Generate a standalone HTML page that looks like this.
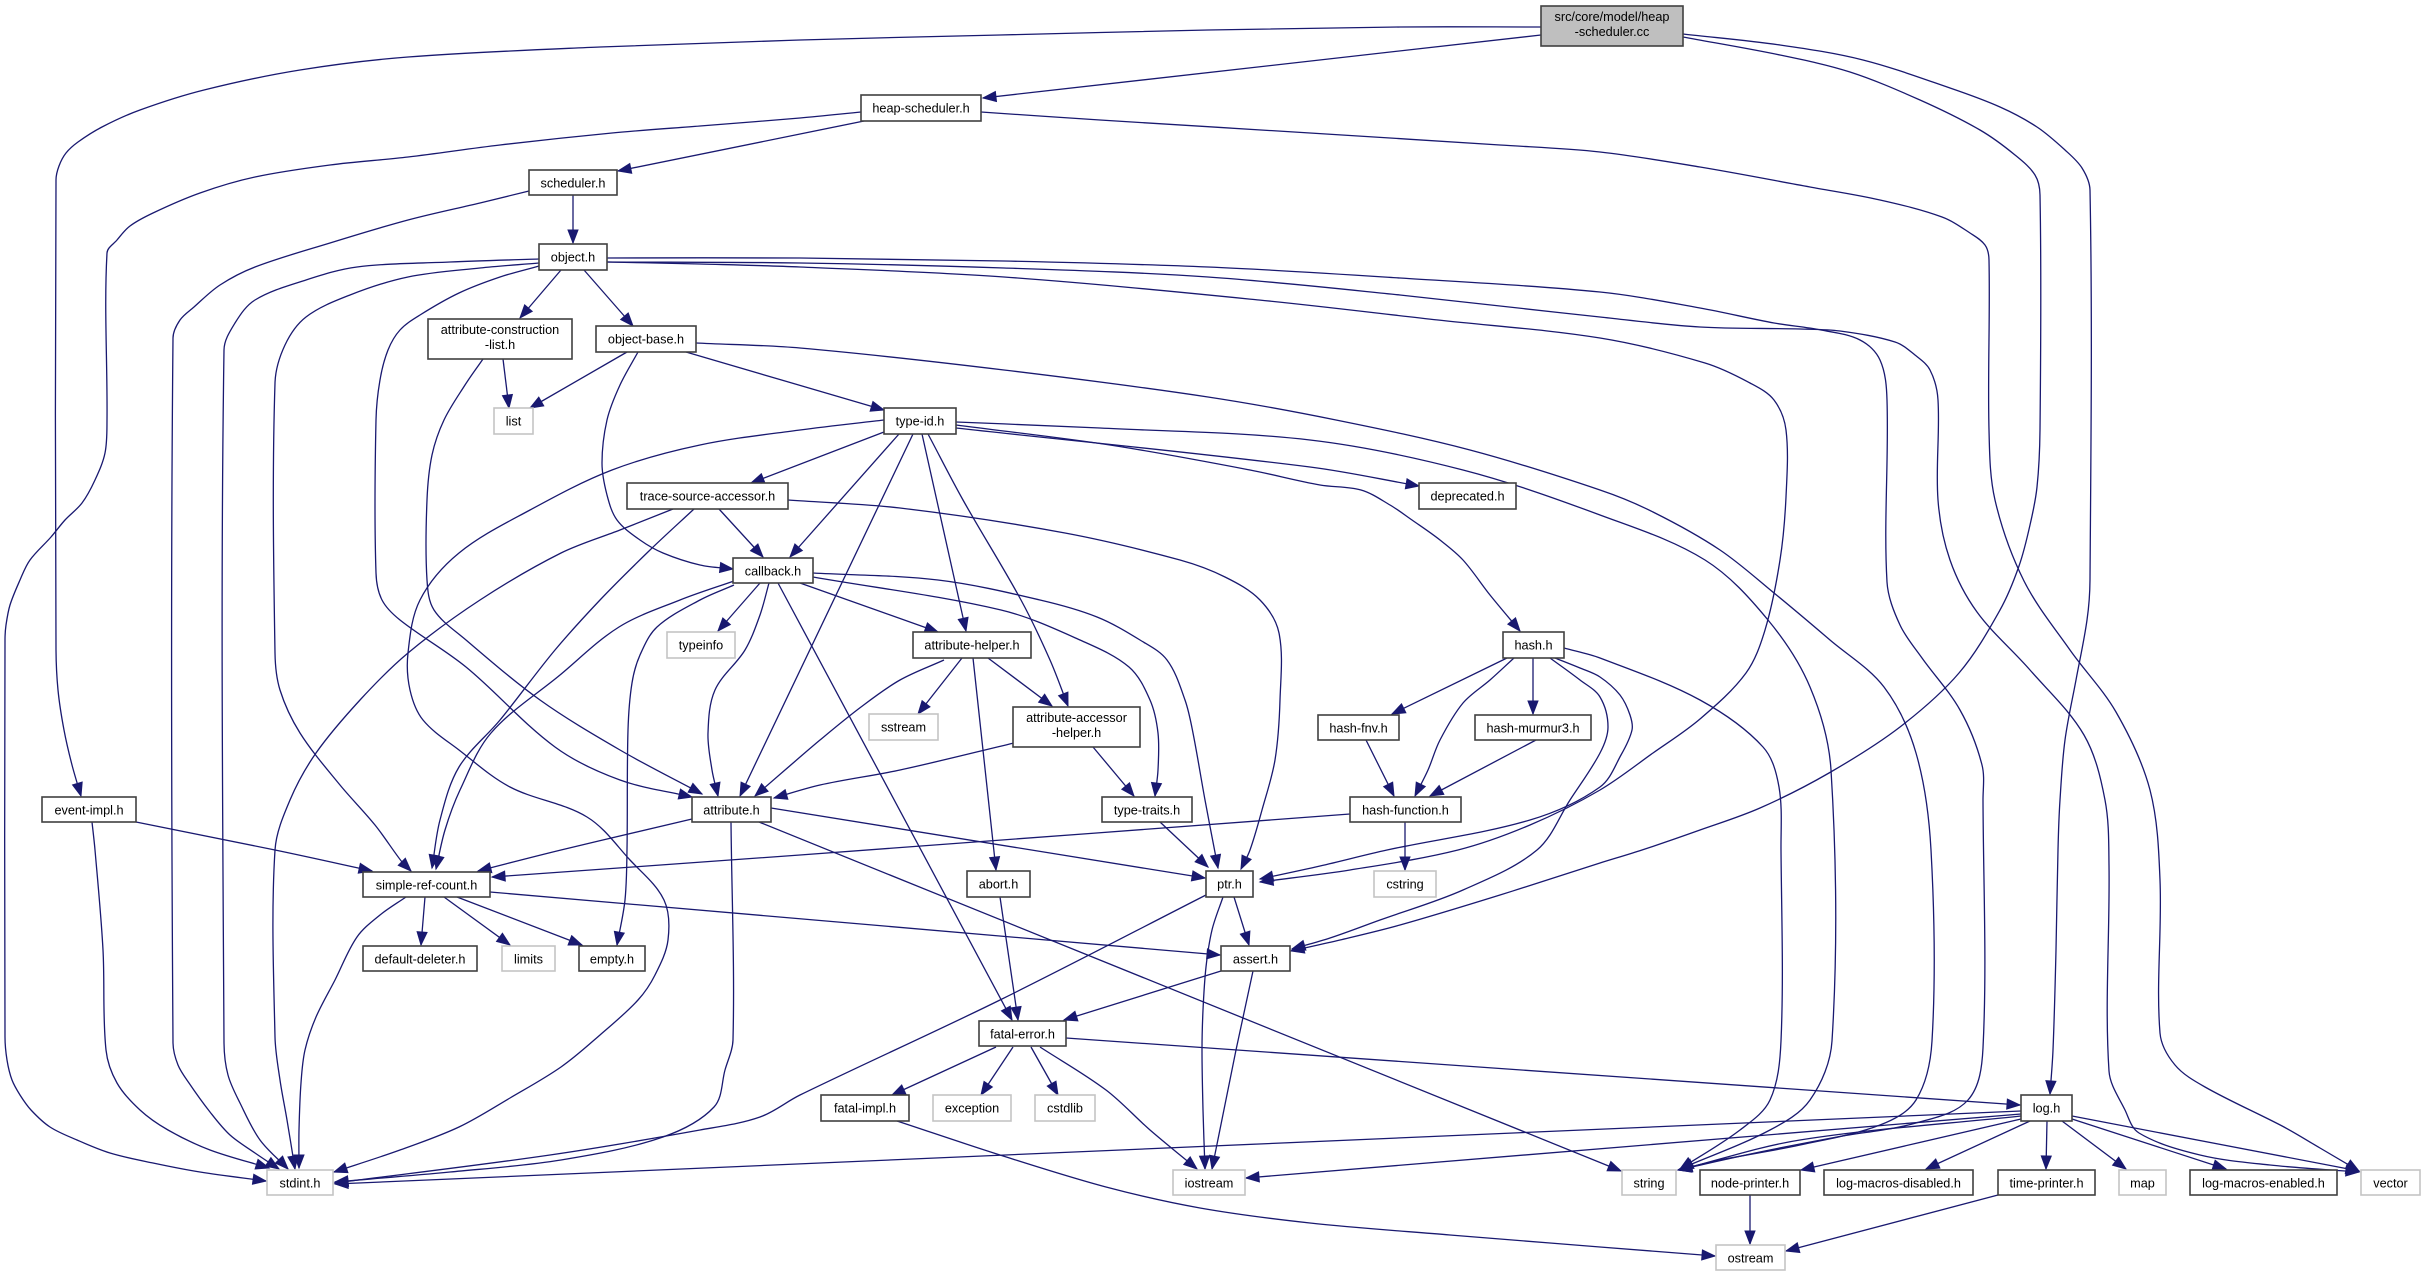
<!DOCTYPE html>
<html><head><meta charset="utf-8"><style>html,body{margin:0;padding:0;background:#fff}svg{display:block}</style></head>
<body>
<svg width="2425" height="1276" viewBox="0 0 2425 1276" xmlns="http://www.w3.org/2000/svg">
<rect width="2425" height="1276" fill="#fff"/>
<defs><marker id="a" markerUnits="userSpaceOnUse" markerWidth="14" markerHeight="12" refX="13" refY="5" orient="auto" overflow="visible"><path d="M0,0L13,5L0,10z" fill="#191970" stroke="#191970" stroke-width="1"/></marker></defs>
<g id="edges" fill="none" stroke="#191970" stroke-width="1.3" stroke-linejoin="round" marker-end="url(#a)">
<path d="M1541,35 L983,98"/>
<path d="M1541,27 L1400,27 L1208,30 L1000,35 L800,40 L600,47 L408,57 L300,70 L204,90 L140,110 L102,127 L78,142 L66,153 L59,166 L56,180 L56,650 L58,690 L64,730 L72,765 L81,796"/>
<path d="M1683,34 L1780,45 L1863,60 L1950,88 L2000,107 L2037,127 L2065,150 L2082,168 L2090,190 L2090,580 L2087,620 L2076,680 L2065,740 L2060,800 L2058,850 L2056,950 L2053,1050 L2050,1094"/>
<path d="M1683,37 L1780,55 L1850,72 L1920,100 L1980,130 L2015,155 L2035,175 L2040,195 L2040,430 L2037,487 L2030,525 L2019,566 L2000,610 L1959,673 L1900,727 L1829,773 L1760,808 L1700,830 L1642,850 L1600,863 L1500,895 L1400,925 L1340,940 L1291,951"/>
<path d="M864,121 L618,171"/>
<path d="M861,112 L800,118 L700,126 L612,133 L500,145 L408,157 L330,165 L255,177 L200,193 L153,213 L130,226 L117,240 L107,253 L107,420 L105,453 L95,480 L82,503 L65,520 L51,537 L30,560 L20,580 L10,605 L6,625 L5,640 L5,1037 L7,1060 L12,1080 L20,1095 L31,1110 L50,1127 L77,1140 L110,1153 L153,1163 L200,1172 L266,1181"/>
<path d="M981,112 L1100,120 L1310,133 L1500,145 L1600,152 L1700,167 L1810,187 L1880,200 L1942,217 L1970,233 L1985,245 L1989,260 L1989,430 L1995,500 L2024,581 L2070,650 L2116,712 L2150,790 L2160,880 L2160,1033 L2175,1065 L2205,1087 L2284,1127 L2320,1148 L2359,1171"/>
<path d="M573,195 L573,243"/>
<path d="M529,191 L480,203 L408,220 L330,243 L255,267 L220,285 L194,307 L180,320 L173,338 L173,1043 L178,1065 L189,1083 L210,1112 L230,1135 L255,1153 L279,1169"/>
<path d="M561,270 L520,318"/>
<path d="M584,270 L633,326"/>
<path d="M539,259 L450,262 L357,267 L306,280 L255,300 L235,323 L224,350 L224,1043 L228,1075 L240,1103 L260,1140 L288,1169"/>
<path d="M539,263 L480,268 L408,277 L350,295 L306,317 L285,345 L275,383 L275,653 L280,690 L300,733 L340,785 L375,825 L402,862 L411,871"/>
<path d="M539,266 L500,277 L459,293 L420,315 L400,330 L388,350 L380,380 L376,420 L376,573 L382,600 L400,620 L466,667 L555,747 L620,780 L692,797"/>
<path d="M607,262 L700,264 L800,267 L1004,277 L1259,300 L1438,320 L1600,338 L1705,363 L1750,383 L1774,400 L1786,430 L1786,497 L1780,560 L1765,630 L1746,673 L1700,719 L1653,753 L1600,790 L1530,825 L1458,850 L1350,870 L1260,882"/>
<path d="M607,258 L800,258 L1004,261 L1208,267 L1400,278 L1600,292 L1700,308 L1774,323 L1821,330 L1860,340 L1880,360 L1887,400 L1887,582 L1900,625 L1922,658 L1960,710 L1982,765 L1983,800 L1983,1048 L1968,1100 L1916,1123 L1837,1137 L1760,1152 L1678,1170"/>
<path d="M607,262 L800,263 L1004,268 L1208,277 L1400,295 L1600,317 L1700,327 L1800,329 L1840,331 L1895,342 L1915,355 L1930,370 L1938,400 L1938,500 L1950,560 L1977,612 L2030,670 L2084,735 L2105,800 L2109,865 L2109,1071 L2125,1110 L2139,1133 L2200,1155 L2270,1165 L2359,1172"/>
<path d="M627,352 L530,408"/>
<path d="M503,359 L509,408"/>
<path d="M483,359 L465,385 L444,420 L432,455 L427,500 L427,580 L434,610 L466,640 L540,700 L620,750 L702,794"/>
<path d="M638,352 L620,385 L607,420 L602,463 L607,495 L617,520 L640,540 L663,553 L700,565 L733,569"/>
<path d="M686,352 L884,410"/>
<path d="M696,343 L800,348 L1004,370 L1208,397 L1336,420 L1470,450 L1600,490 L1653,512 L1720,550 L1774,593 L1830,640 L1884,687 L1916,753 L1931,850 L1932,1041 L1916,1100 L1880,1125 L1800,1145 L1720,1160 L1678,1170"/>
<path d="M884,432 L751,483"/>
<path d="M899,434 L790,557"/>
<path d="M913,434 L740,796"/>
<path d="M922,434 L966,631"/>
<path d="M928,434 L963,500 L1021,600 L1050,660 L1068,706"/>
<path d="M956,428 L1310,467 L1419,486"/>
<path d="M956,425 L1110,445 L1250,470 L1320,485 L1361,490 L1390,505 L1412,520 L1440,540 L1463,560 L1490,595 L1520,631"/>
<path d="M956,422 L1100,428 L1310,440 L1463,470 L1600,515 L1705,560 L1768,620 L1810,687 L1831,770 L1832,1041 L1810,1100 L1770,1130 L1680,1169"/>
<path d="M884,420 L800,430 L700,445 L612,470 L530,510 L459,553 L420,600 L408,653 L410,690 L423,720 L459,750 L510,787 L587,817 L630,860 L664,900 L668,940 L655,975 L638,1000 L600,1035 L561,1067 L510,1098 L459,1127 L400,1150 L334,1172"/>
<path d="M719,509 L763,557"/>
<path d="M694,509 L650,550 L600,600 L555,650 L500,720 L459,767 L440,820 L432,868"/>
<path d="M673,509 L620,530 L561,553 L480,600 L408,653 L360,700 L316,753 L290,800 L275,850 L275,1037 L280,1080 L287,1120 L295,1169"/>
<path d="M788,500 L900,508 L1065,533 L1180,560 L1225,577 L1260,600 L1279,633 L1280,700 L1275,760 L1262,810 L1250,850 L1241,869"/>
<path d="M760,583 L718,631"/>
<path d="M769,583 L760,615 L745,650 L715,690 L708,733 L712,770 L718,796"/>
<path d="M734,581 L680,600 L619,627 L560,675 L491,733 L460,790 L445,830 L436,869"/>
<path d="M734,585 L700,600 L657,627 L640,655 L632,683 L628,730 L627,850 L625,900 L617,945"/>
<path d="M800,583 L938,632"/>
<path d="M813,577 L1001,610 L1080,640 L1129,667 L1150,700 L1158,733 L1158,770 L1155,796"/>
<path d="M813,573 L938,580 L1040,600 L1097,617 L1140,640 L1167,660 L1185,700 L1193,733 L1205,800 L1218,868"/>
<path d="M778,583 L1012,1020"/>
<path d="M962,658 L918,714"/>
<path d="M988,658 L1052,706"/>
<path d="M973,658 L996,870"/>
<path d="M944,660 L900,680 L861,707 L820,740 L785,770 L755,796"/>
<path d="M1014,743 L900,770 L820,785 L774,798"/>
<path d="M1093,747 L1134,796"/>
<path d="M1160,822 L1208,867"/>
<path d="M692,819 L561,850 L478,871"/>
<path d="M771,808 L1205,878"/>
<path d="M759,822 L1621,1171"/>
<path d="M731,822 L733,1040 L725,1070 L714,1107 L663,1137 L561,1160 L450,1172 L335,1182"/>
<path d="M136,822 L275,850 L372,871"/>
<path d="M92,822 L95,850 L103,950 L106,1050 L117,1083 L140,1110 L168,1130 L210,1150 L269,1168"/>
<path d="M425,897 L421,945"/>
<path d="M444,897 L510,945"/>
<path d="M457,897 L582,945"/>
<path d="M406,897 L380,915 L357,937 L335,980 L316,1017 L305,1050 L301,1083 L299,1130 L299,1168"/>
<path d="M490,892 L1220,955"/>
<path d="M1405,822 L1405,870"/>
<path d="M1350,814 L800,855 L492,877"/>
<path d="M1000,897 L1018,1020"/>
<path d="M1234,897 L1249,945"/>
<path d="M1223,897 L1212,930 L1206,967 L1203,1010 L1202,1050 L1203,1110 L1205,1169"/>
<path d="M1206,895 L1000,1000 L800,1095 L760,1117 L700,1130 L550,1155 L335,1183"/>
<path d="M1221,971 L1064,1020"/>
<path d="M1253,971 L1236,1050 L1212,1169"/>
<path d="M996,1047 L892,1095"/>
<path d="M1013,1047 L981,1095"/>
<path d="M1031,1047 L1058,1095"/>
<path d="M1040,1047 L1106,1090 L1150,1130 L1197,1169"/>
<path d="M1066,1038 L2020,1105"/>
<path d="M897,1121 L1000,1155 L1106,1187 L1200,1208 L1310,1223 L1450,1235 L1600,1247 L1715,1256"/>
<path d="M2021,1111 L335,1184"/>
<path d="M2021,1114 L1246,1178"/>
<path d="M2021,1116 L1800,1140 L1679,1170"/>
<path d="M2021,1119 L1801,1170"/>
<path d="M2030,1121 L1926,1169"/>
<path d="M2047,1121 L2046,1169"/>
<path d="M2062,1121 L2126,1169"/>
<path d="M2072,1119 L2226,1169"/>
<path d="M2072,1116 L2359,1171"/>
<path d="M1750,1195 L1750,1244"/>
<path d="M1998,1195 L1786,1251"/>
<path d="M1366,740 L1394,796"/>
<path d="M1536,740 L1430,796"/>
<path d="M1507,658 L1392,714"/>
<path d="M1533,658 L1533,714"/>
<path d="M1514,658 L1490,680 L1463,703 L1440,740 L1428,770 L1415,796"/>
<path d="M1564,648 L1600,658 L1700,700 L1763,747 L1779,787 L1781,850 L1781,1041 L1770,1100 L1740,1130 L1680,1169"/>
<path d="M1555,658 L1580,668 L1600,677 L1620,695 L1630,715 L1632,730 L1621,755 L1600,787 L1530,820 L1387,850 L1320,866 L1260,879"/>
<path d="M1550,658 L1580,680 L1600,697 L1608,727 L1600,753 L1570,800 L1537,850 L1463,890 L1380,920 L1330,938 L1292,949"/>
</g>
<g font-family="'Liberation Sans', Arial, sans-serif" font-size="12.7" text-anchor="middle" fill="#000">
<g stroke-width="1.6">
<rect x="1541" y="6" width="142" height="40" fill="#bfbfbf" stroke="#404040"/>
<rect x="861" y="95" width="120" height="26" fill="#fff" stroke="#404040"/>
<rect x="529" y="170" width="88" height="25" fill="#fff" stroke="#404040"/>
<rect x="539" y="244" width="68" height="26" fill="#fff" stroke="#404040"/>
<rect x="428" y="319" width="144" height="40" fill="#fff" stroke="#404040"/>
<rect x="596" y="326" width="100" height="26" fill="#fff" stroke="#404040"/>
<rect x="494" y="408" width="39" height="26" fill="#fff" stroke="#c4c4c4"/>
<rect x="884" y="408" width="72" height="26" fill="#fff" stroke="#404040"/>
<rect x="627" y="483" width="161" height="26" fill="#fff" stroke="#404040"/>
<rect x="1419" y="483" width="97" height="26" fill="#fff" stroke="#404040"/>
<rect x="733" y="558" width="80" height="25" fill="#fff" stroke="#404040"/>
<rect x="667" y="632" width="68" height="26" fill="#fff" stroke="#c4c4c4"/>
<rect x="913" y="632" width="118" height="26" fill="#fff" stroke="#404040"/>
<rect x="1503" y="632" width="61" height="26" fill="#fff" stroke="#404040"/>
<rect x="869" y="714" width="69" height="26" fill="#fff" stroke="#c4c4c4"/>
<rect x="1013" y="707" width="127" height="40" fill="#fff" stroke="#404040"/>
<rect x="1318" y="715" width="81" height="25" fill="#fff" stroke="#404040"/>
<rect x="1475" y="715" width="116" height="25" fill="#fff" stroke="#404040"/>
<rect x="42" y="797" width="94" height="25" fill="#fff" stroke="#404040"/>
<rect x="692" y="797" width="79" height="25" fill="#fff" stroke="#404040"/>
<rect x="1102" y="797" width="90" height="25" fill="#fff" stroke="#404040"/>
<rect x="1350" y="797" width="111" height="25" fill="#fff" stroke="#404040"/>
<rect x="363" y="872" width="127" height="25" fill="#fff" stroke="#404040"/>
<rect x="967" y="871" width="63" height="26" fill="#fff" stroke="#404040"/>
<rect x="1206" y="871" width="47" height="26" fill="#fff" stroke="#404040"/>
<rect x="1374" y="871" width="62" height="26" fill="#fff" stroke="#c4c4c4"/>
<rect x="363" y="946" width="114" height="25" fill="#fff" stroke="#404040"/>
<rect x="502" y="946" width="53" height="25" fill="#fff" stroke="#c4c4c4"/>
<rect x="579" y="946" width="66" height="25" fill="#fff" stroke="#404040"/>
<rect x="1221" y="946" width="69" height="25" fill="#fff" stroke="#404040"/>
<rect x="979" y="1021" width="87" height="25" fill="#fff" stroke="#404040"/>
<rect x="821" y="1095" width="88" height="26" fill="#fff" stroke="#404040"/>
<rect x="933" y="1095" width="78" height="26" fill="#fff" stroke="#c4c4c4"/>
<rect x="1035" y="1095" width="60" height="26" fill="#fff" stroke="#c4c4c4"/>
<rect x="2021" y="1095" width="51" height="26" fill="#fff" stroke="#404040"/>
<rect x="267" y="1170" width="66" height="25" fill="#fff" stroke="#c4c4c4"/>
<rect x="1173" y="1170" width="72" height="25" fill="#fff" stroke="#c4c4c4"/>
<rect x="1622" y="1170" width="54" height="25" fill="#fff" stroke="#c4c4c4"/>
<rect x="1700" y="1170" width="100" height="25" fill="#fff" stroke="#404040"/>
<rect x="1824" y="1170" width="149" height="25" fill="#fff" stroke="#404040"/>
<rect x="1998" y="1170" width="97" height="25" fill="#fff" stroke="#404040"/>
<rect x="2119" y="1170" width="47" height="25" fill="#fff" stroke="#c4c4c4"/>
<rect x="2190" y="1170" width="147" height="25" fill="#fff" stroke="#404040"/>
<rect x="2361" y="1170" width="59" height="25" fill="#fff" stroke="#c4c4c4"/>
<rect x="1716" y="1245" width="69" height="25" fill="#fff" stroke="#c4c4c4"/>
</g>
<text x="1612" y="21">src/core/model/heap</text>
<text x="1612" y="36">-scheduler.cc</text>
<text x="921" y="112.5">heap-scheduler.h</text>
<text x="573" y="187.5">scheduler.h</text>
<text x="573" y="261.5">object.h</text>
<text x="500" y="334">attribute-construction</text>
<text x="500" y="349">-list.h</text>
<text x="646" y="343.5">object-base.h</text>
<text x="513.5" y="425.5">list</text>
<text x="920" y="425.5">type-id.h</text>
<text x="707.5" y="500.5">trace-source-accessor.h</text>
<text x="1467.5" y="500.5">deprecated.h</text>
<text x="773" y="575.5">callback.h</text>
<text x="701" y="649.5">typeinfo</text>
<text x="972" y="649.5">attribute-helper.h</text>
<text x="1533.5" y="649.5">hash.h</text>
<text x="903.5" y="731.5">sstream</text>
<text x="1076.5" y="722">attribute-accessor</text>
<text x="1076.5" y="737">-helper.h</text>
<text x="1358.5" y="732.5">hash-fnv.h</text>
<text x="1533" y="732.5">hash-murmur3.h</text>
<text x="89" y="814.5">event-impl.h</text>
<text x="731.5" y="814.5">attribute.h</text>
<text x="1147" y="814.5">type-traits.h</text>
<text x="1405.5" y="814.5">hash-function.h</text>
<text x="426.5" y="889.5">simple-ref-count.h</text>
<text x="998.5" y="888.5">abort.h</text>
<text x="1229.5" y="888.5">ptr.h</text>
<text x="1405" y="888.5">cstring</text>
<text x="420" y="963.5">default-deleter.h</text>
<text x="528.5" y="963.5">limits</text>
<text x="612" y="963.5">empty.h</text>
<text x="1255.5" y="963.5">assert.h</text>
<text x="1022.5" y="1038.5">fatal-error.h</text>
<text x="865" y="1112.5">fatal-impl.h</text>
<text x="972" y="1112.5">exception</text>
<text x="1065" y="1112.5">cstdlib</text>
<text x="2046.5" y="1112.5">log.h</text>
<text x="300" y="1187.5">stdint.h</text>
<text x="1209" y="1187.5">iostream</text>
<text x="1649" y="1187.5">string</text>
<text x="1750" y="1187.5">node-printer.h</text>
<text x="1898.5" y="1187.5">log-macros-disabled.h</text>
<text x="2046.5" y="1187.5">time-printer.h</text>
<text x="2142.5" y="1187.5">map</text>
<text x="2263.5" y="1187.5">log-macros-enabled.h</text>
<text x="2390.5" y="1187.5">vector</text>
<text x="1750.5" y="1262.5">ostream</text>
</g>
</svg>
<script>
(function(){
var paths=document.querySelectorAll('#edges path');
for(var k=0;k<paths.length;k++){
 var p=paths[k];
 var nums=p.getAttribute('d').match(/-?\d+(\.\d+)?/g).map(Number);
 var pts=[];for(var i=0;i+1<nums.length;i+=2)pts.push([nums[i],nums[i+1]]);
 var n=pts.length; if(n<3)continue;
 var T=[];
 for(var i=0;i<n;i++){
  var a=pts[Math.max(0,i-1)],b=pts[Math.min(n-1,i+1)];
  var dx=b[0]-a[0],dy=b[1]-a[1],l=Math.sqrt(dx*dx+dy*dy)||1;
  T.push([dx/l,dy/l]);
 }
 var d='M'+pts[0][0]+','+pts[0][1];
 for(var i=0;i<n-1;i++){
  var P=pts[i],Q=pts[i+1];
  var L=Math.sqrt((Q[0]-P[0])*(Q[0]-P[0])+(Q[1]-P[1])*(Q[1]-P[1]))/3;
  d+=' C'+(P[0]+T[i][0]*L).toFixed(1)+','+(P[1]+T[i][1]*L).toFixed(1)+' '+(Q[0]-T[i+1][0]*L).toFixed(1)+','+(Q[1]-T[i+1][1]*L).toFixed(1)+' '+Q[0]+','+Q[1];
 }
 p.setAttribute('d',d);
}
})();
</script>
</body></html>
